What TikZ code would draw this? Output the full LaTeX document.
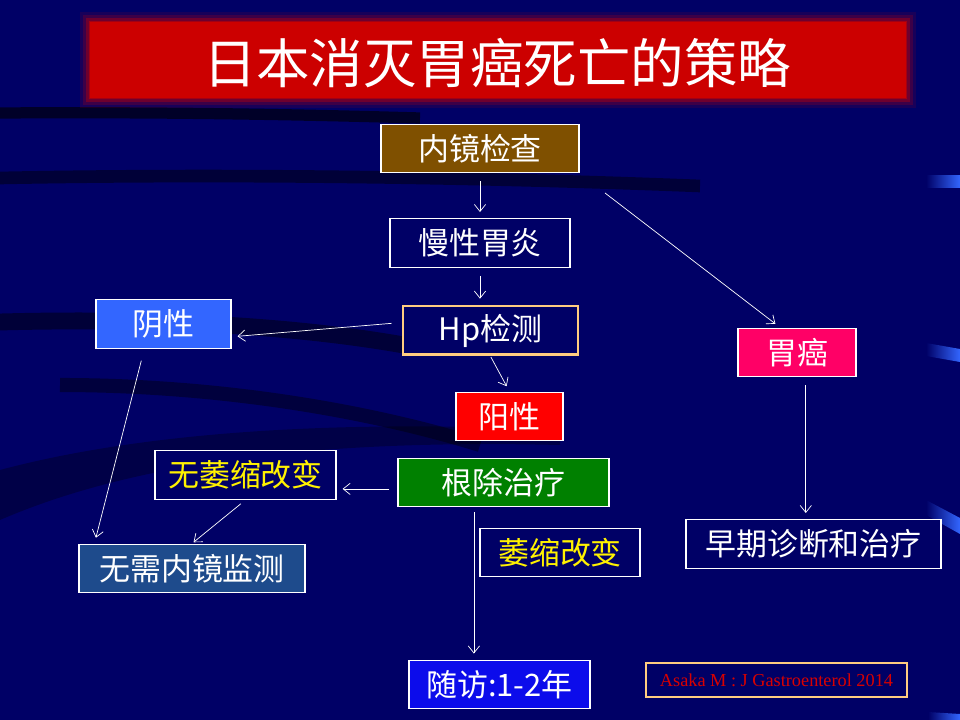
\documentclass[tikz,border=0pt]{standalone}
\usepackage{fontspec}
\setmainfont{Noto Sans CJK SC}
\newfontfamily\reffont{Liberation Serif}
\usetikzlibrary{arrows.meta}
\definecolor{fond}{RGB}{0,0,102}
\definecolor{brun}{RGB}{127,80,0}
\definecolor{bleuclair}{RGB}{51,102,255}
\definecolor{rose}{RGB}{255,0,102}
\definecolor{vert}{RGB}{0,128,0}
\definecolor{acier}{RGB}{30,75,140}
\definecolor{bleuvif}{RGB}{12,12,235}
\definecolor{orange}{RGB}{255,204,128}
\definecolor{rouge}{RGB}{204,0,0}

\begin{document}
\begin{tikzpicture}[x=0.025cm,y=-0.025cm,
  boite/.style={draw=white,line width=0.8pt,minimum height=1.22cm,inner sep=0pt,text=white,font=\fontsize{22}{26}\selectfont},
  jaune/.style={boite,fill=fond,text=yellow},
  fleche/.style={draw=white,line width=0.5pt,-{Straight Barb[length=5pt,width=8pt]},shorten <=0.2cm,shorten >=0.15cm}]
\useasboundingbox (0,0) rectangle (960,720);
\fill [fond] (0,0) rectangle (960,720);
% fond
\draw [black,opacity=0.6,line width=8pt] (0,113) .. controls (150,112) and (280,114) .. (420,118);
\draw [black,opacity=0.45,line width=9pt] (0,178) .. controls (200,174) and (450,176) .. (700,186);
\draw [black,opacity=0.45,line width=12pt] (0,322) .. controls (150,318) and (300,325) .. (420,348);
\draw [black,opacity=0.4,line width=10pt] (60,385) .. controls (200,385) and (350,405) .. (480,445);
\fill [black,opacity=0.3] (0,470) .. controls (150,430) and (350,420) .. (560,430) -- (560,445) .. controls (350,440) and (150,455) .. (0,520) -- cycle;
\shade [left color=fond,right color=bleuclair] (926,176) rectangle (960,188);
\shade [left color=fond,right color=bleuclair] (926,343) -- (960,349) -- (960,362) -- (926,356) -- cycle;
\shade [left color=fond,right color=bleuclair] (926,500) -- (960,518) -- (960,534) -- (926,515) -- cycle;
\shade [left color=fond,right color=bleuclair] (928,712) -- (960,714) -- (960,720) -- (928,720) -- cycle;
% titre
\foreach \e/\o in {10/0.12,7/0.2,4/0.35,1/0.55}
  \fill [rouge,opacity=\o] (90-\e,22-\e) rectangle (906+\e,98+\e);
\fill [rouge] (90,22) rectangle (906,98);
\node (titre) [text=white,font=\fontsize{38}{42}\selectfont] at (497,63) {日本消灭胃癌死亡的策略};
% boites
\node (nj) [boite,fill=brun,minimum width=4.95cm] at (480,148.5) {内镜检查};
\node (mx) [boite,fill=fond,minimum width=4.5cm] at (480,243) {慢性胃炎};
\node (hp) [boite,fill=fond,draw=orange,line width=2pt,minimum width=4.375cm] at (490.5,330.5) {Hp检测};
\node (yin) [boite,fill=bleuclair,minimum width=3.375cm] at (163.5,324) {阴性};
\node (yang) [boite,fill=red,minimum width=2.675cm] at (509.5,416.5) {阳性};
\node (wa) [boite,fill=rose,minimum width=2.95cm] at (797,352.5) {胃癌};
\node (nowei) [jaune,minimum width=4.525cm] at (245.5,475) {无萎缩改变};
\node (gc) [boite,fill=vert,minimum width=5.275cm] at (503.5,482.5) {根除治疗};
\node (wei) [jaune,minimum width=4cm] at (560,552.5) {萎缩改变};
\node (wx) [boite,fill=acier,minimum width=5.65cm] at (192,568.5) {无需内镜监测};
\node (zq) [boite,fill=fond,minimum width=6.375cm] at (813.5,544) {早期诊断和治疗};
\node (sf) [boite,fill=bleuvif,minimum width=4.525cm] at (499.5,684.5) {随访:1-2年};
\node (ref) [draw=orange,line width=2pt,fill=fond,minimum width=6.525cm,minimum height=0.85cm,text=red!85!black,font=\reffont\fontsize{13}{15}\selectfont] at (776.5,680) {Asaka M : J Gastroenterol 2014};
% fleches
\draw [fleche] (nj.south) -- (mx.north);
\draw [fleche,shorten <=0.8cm] (nj.south east) -- ([xshift=-0.42cm]wa.north);
\draw [fleche] (mx.south) -- (mx.south |- hp.north);
\draw [fleche,shorten <=0.25cm] ([yshift=0.2cm]hp.west) -- ([yshift=-0.32cm]yin.east);
\draw [fleche,shorten <=0.02cm] (hp.south) -- (yang.north);
\draw [fleche,shorten <=0.3cm] ([xshift=-0.48cm]yin.south) -- ([xshift=0.4cm]wx.north west);
\draw [fleche] ([yshift=-0.16cm]gc.west) -- ([yshift=-0.16cm]gc.west -| nowei.east);
\draw [fleche,shorten <=0.15cm,shorten >=0.05cm] (nowei.south) -- (wx.north);
\draw [fleche,shorten <=0.12cm] ([xshift=-0.74cm]gc.south) -- ([xshift=-0.74cm]gc.south |- sf.north);
\draw [fleche] ([xshift=0.22cm]wa.south) -- ([xshift=0.22cm]wa.south |- zq.north);
\end{tikzpicture}
\end{document}
